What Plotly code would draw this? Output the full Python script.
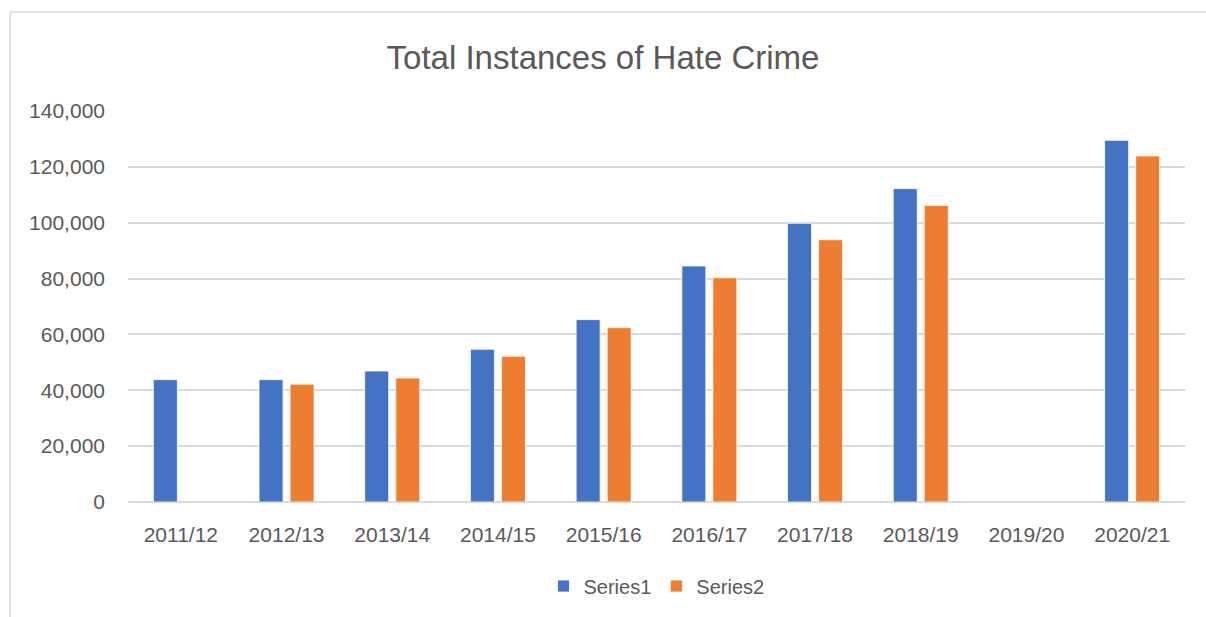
import plotly.graph_objects as go

categories = ["2011/12", "2012/13", "2013/14", "2014/15", "2015/16",
              "2016/17", "2017/18", "2018/19", "2019/20", "2020/21"]
series1 = [43800, 43800, 46900, 54700, 65300, 84500, 99800, 112200, None, 129500]
series2 = [None, 42200, 44400, 52200, 62400, 80300, 93900, 106200, None, 123900]

FONT = "Liberation Sans"
GRAY = "#595959"
GRID = "#d9d9d9"

fig = go.Figure()
fig.add_trace(go.Bar(name="Series1", x=categories, y=series1,
                     marker=dict(color="#4472C4", line=dict(color="#ffffff", width=0.8))))
fig.add_trace(go.Bar(name="Series2", x=categories, y=series2,
                     marker=dict(color="#ED7D31", line=dict(color="#ffffff", width=0.8))))

L, R, T, B = 128, 21, 111, 115
W, H = 1206, 617
pw, ph = W - L - R, H - T - B

fig.update_layout(
    width=W, height=H,
    margin=dict(l=L, r=R, t=T, b=B),
    paper_bgcolor="white", plot_bgcolor="white",
    barmode="group", bargap=0.413, bargroupgap=0.226,
    font=dict(family=FONT, color=GRAY, size=21),
    title=dict(text="Total Instances of Hate Crime", x=0.5, xanchor="center",
               y=1 - 57 / H, yanchor="middle", yref="container",
               font=dict(family=FONT, size=33, color=GRAY)),
    showlegend=True,
    legend=dict(orientation="h", x=0.5, xanchor="center",
                y=(0 - (586 - (T + ph))) / ph, yanchor="middle",
                font=dict(size=20, color=GRAY), itemwidth=30,
                traceorder="normal"),
    xaxis=dict(showgrid=False, showline=False, ticks="", ticklabelstandoff=18,
               tickfont=dict(size=21, color=GRAY)),
    yaxis=dict(range=[0, 140000], dtick=20000, tickformat=",d",
               showgrid=True, gridcolor=GRID, gridwidth=1.5,
               zeroline=True, zerolinecolor=GRID, zerolinewidth=1.5,
               showline=False, ticks="", ticklabelstandoff=22,
               tickfont=dict(size=21, color=GRAY)),
    shapes=[dict(type="rect", xref="paper", yref="paper",
                 x0=(10 - L) / pw, x1=(W + 20 - L) / pw,
                 y0=-0.5, y1=(T + ph - 12) / ph,
                 line=dict(color=GRID, width=1.5), layer="below")],
)

fig.write_html("out.html")
